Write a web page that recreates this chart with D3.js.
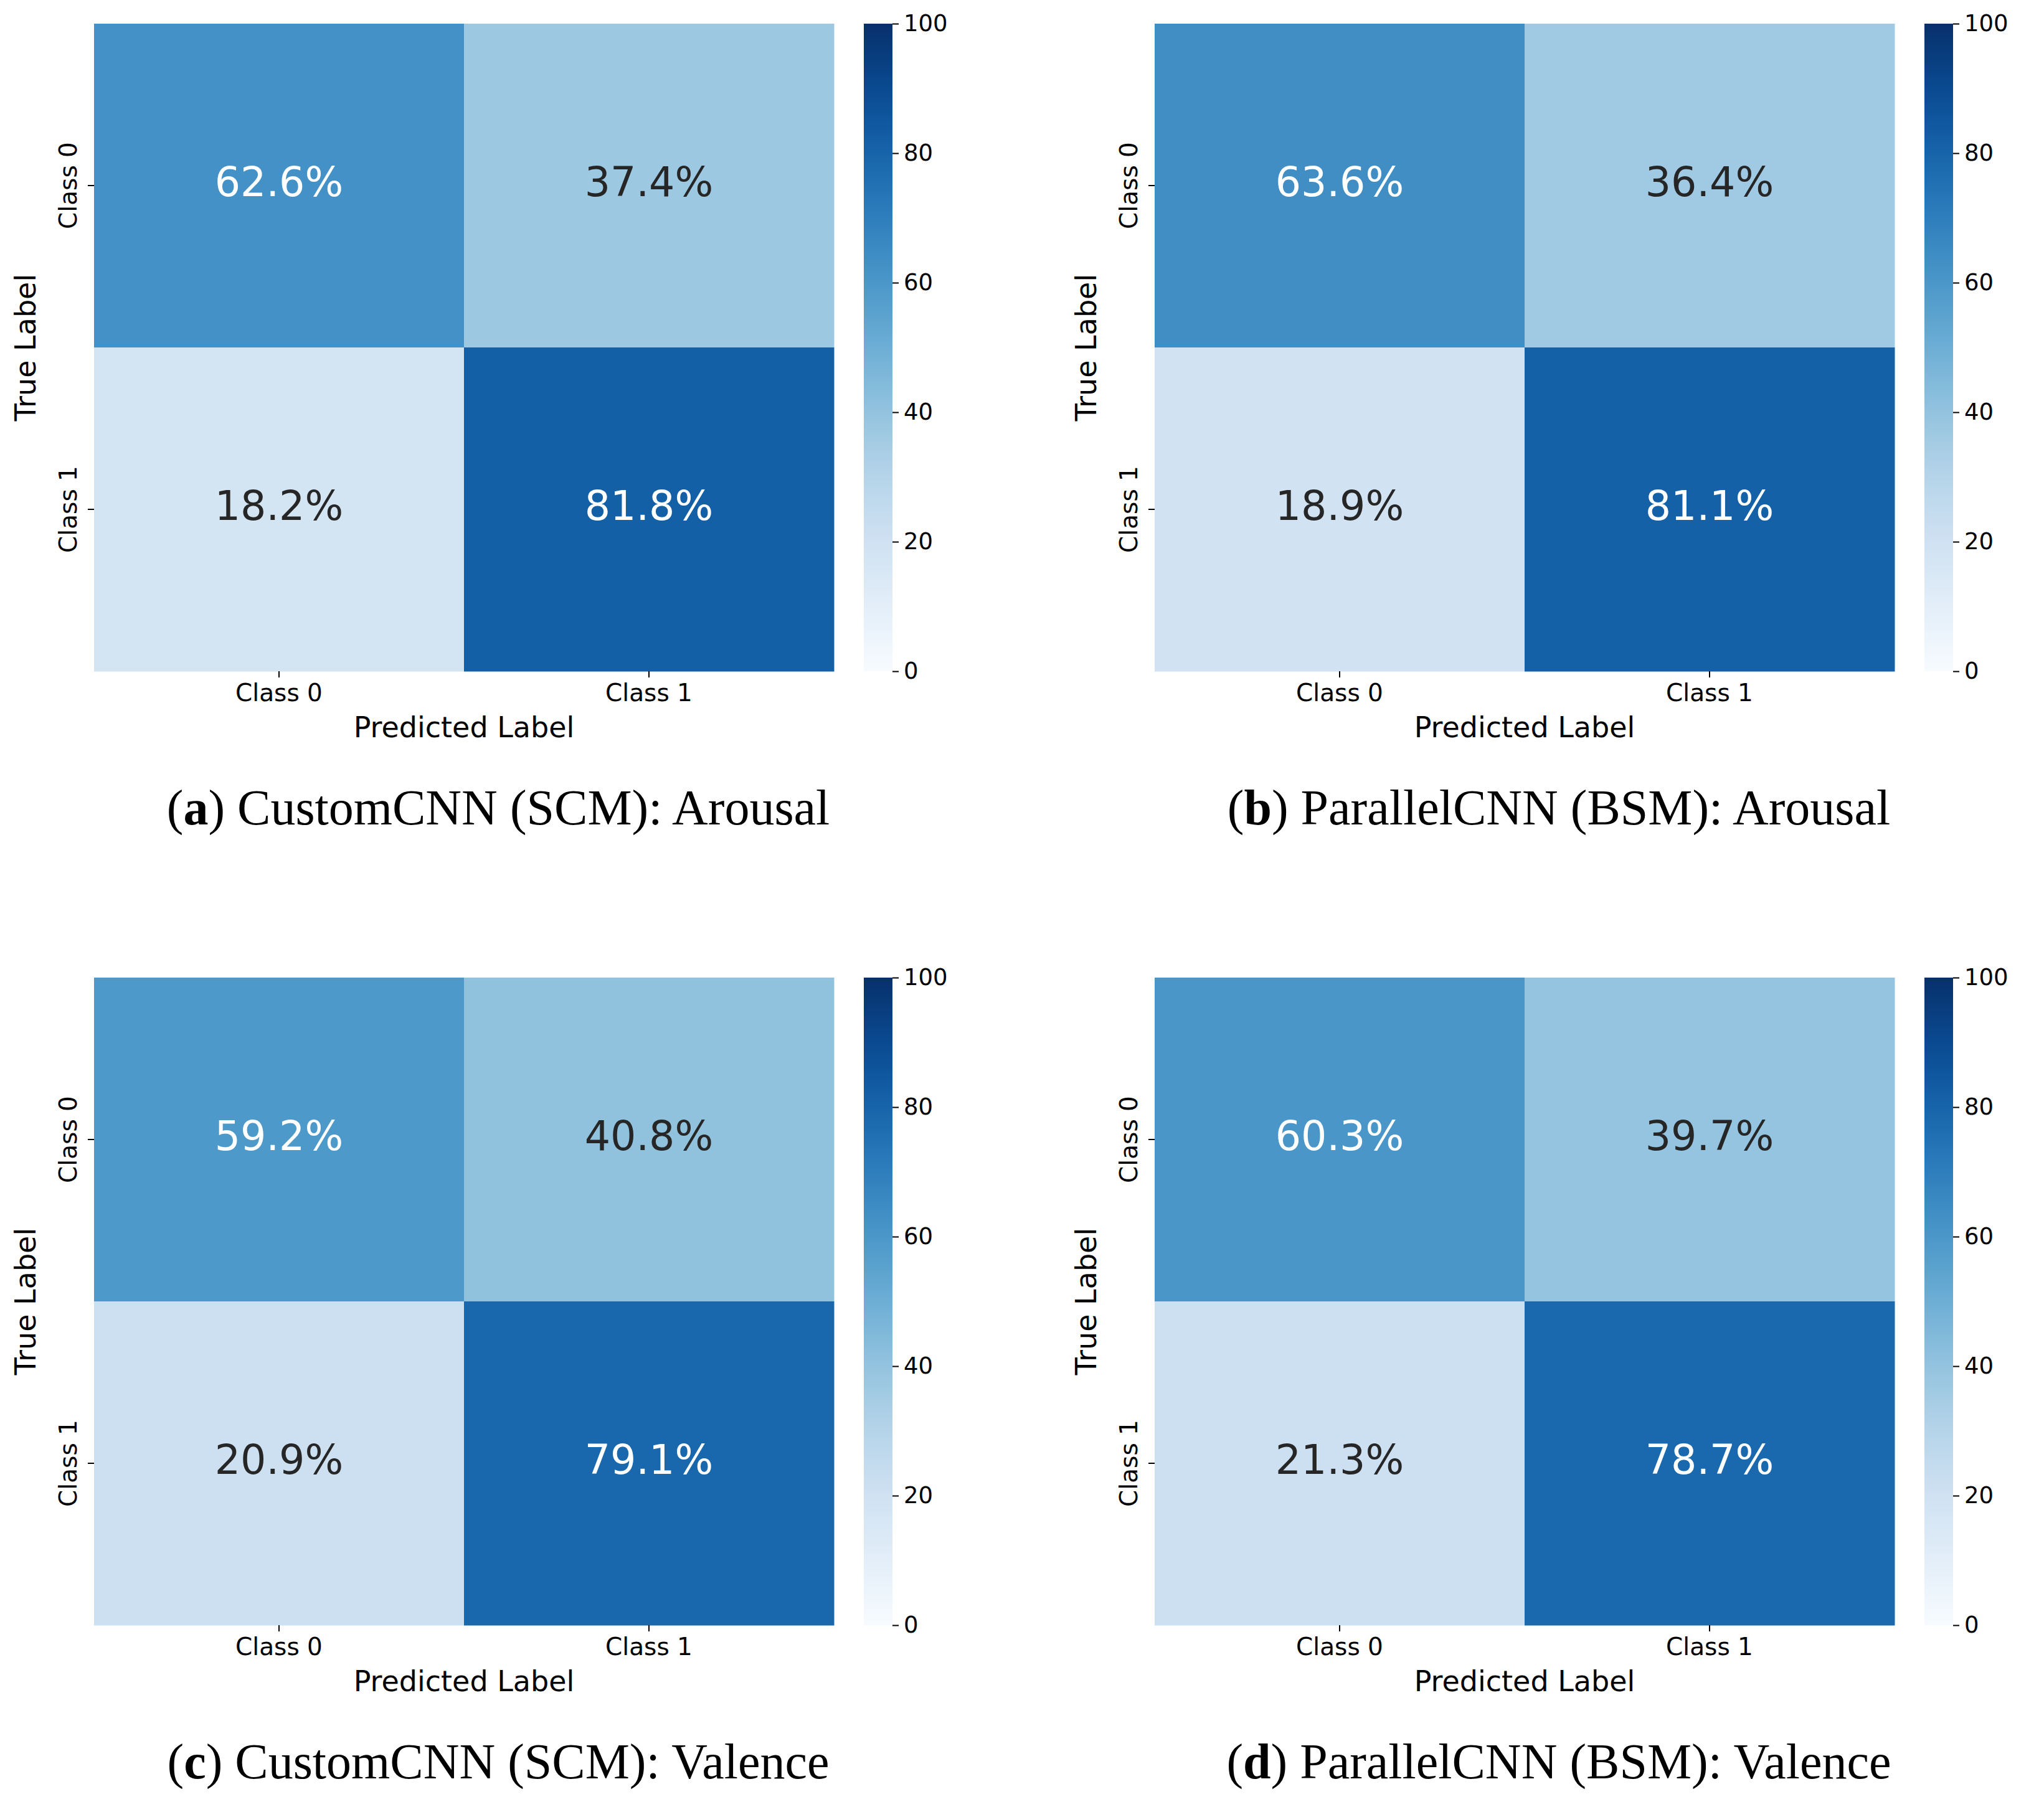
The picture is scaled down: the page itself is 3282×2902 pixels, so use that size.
<!DOCTYPE html>
<html><head><meta charset="utf-8">
<script src="https://cdn.jsdelivr.net/npm/d3@7"></script>
<style>body{margin:0;background:#fff}</style></head>
<body><svg id="c" width="3282" height="2902"></svg>
<script>
const classes = ["Class 0","Class 1"];
const panelA = [[62.6,37.4],[18.2,81.8]];
const panelB = [[63.6,36.4],[18.9,81.1]];
const panelC = [[59.2,40.8],[20.9,79.1]];
const panelD = [[60.3,39.7],[21.3,78.7]];
const letters = ["a","b","c","d"];
const captions = [") CustomCNN (SCM): Arousal",") ParallelCNN (BSM): Arousal",") CustomCNN (SCM): Valence",") ParallelCNN (BSM): Valence"];
const cbTicks = [0,20,40,60,80,100];

const svg = d3.select("#c");
const color = d3.scaleSequential(d3.interpolateBlues).domain([0,100]);
const panels = [panelA,panelB,panelC,panelD];
const lefts = [151,1854], tops = [38,1570];
const W = 1188, H = 1040;
const font = "DejaVu Sans";

panels.forEach((m,i)=>{
  const x0 = lefts[i%2], y0 = tops[Math.floor(i/2)];
  const g = svg.append("g").attr("transform",`translate(${x0},${y0})`);
  const x = d3.scaleBand().domain(classes).range([0,W]);
  const y = d3.scaleBand().domain(classes).range([0,H]);
  m.forEach((row,r)=>row.forEach((v,c)=>{
    g.append("rect").attr("x",x(classes[c])).attr("y",y(classes[r]))
      .attr("width",x.bandwidth()+0.5).attr("height",y.bandwidth()+0.5).attr("fill",color(v));
    g.append("text").attr("x",x(classes[c])+x.bandwidth()/2).attr("y",y(classes[r])+y.bandwidth()/2-6)
      .attr("text-anchor","middle").attr("dominant-baseline","central")
      .attr("font-family",font).attr("font-size",65)
      .attr("fill",v>50?"#fff":"#262626").text(v.toFixed(1)+"%");
  }));
  const ax = g.append("g").attr("transform",`translate(0,${H})`)
    .call(d3.axisBottom(x).tickSize(10).tickPadding(10));
  ax.select(".domain").remove();
  ax.selectAll("text").attr("font-family",font).attr("font-size",39).attr("fill","#000");
  ax.selectAll("line").attr("stroke","#000").attr("stroke-width",2);
  const ay = g.append("g").call(d3.axisLeft(y).tickSize(10).tickPadding(8));
  ay.select(".domain").remove();
  ay.selectAll("line").attr("stroke","#000").attr("stroke-width",2);
  ay.selectAll("text").attr("font-family",font).attr("font-size",39).attr("fill","#000")
    .attr("transform","rotate(-90)").attr("x",0).attr("y",-28).attr("dy","0")
    .attr("text-anchor","middle");
  g.append("text").attr("x",W/2).attr("y",H+106).attr("text-anchor","middle")
    .attr("font-family",font).attr("font-size",46).text("Predicted Label");
  g.append("text").attr("transform",`translate(-94,${H/2}) rotate(-90)`).attr("text-anchor","middle")
    .attr("font-family",font).attr("font-size",46).text("True Label");
  const cbx = W+48, cbw = 46;
  const defs = svg.append("defs");
  const gid = "grad"+i;
  const gr = defs.append("linearGradient").attr("id",gid).attr("x1",0).attr("y1",1).attr("x2",0).attr("y2",0);
  d3.range(0,1.01,0.05).forEach(t=>gr.append("stop").attr("offset",t).attr("stop-color",color(t*100)));
  g.append("rect").attr("x",cbx).attr("y",0).attr("width",cbw).attr("height",H).attr("fill",`url(#${gid})`);
  const cy = d3.scaleLinear().domain([0,100]).range([H,0]);
  const ac = g.append("g").attr("transform",`translate(${cbx+cbw},0)`)
    .call(d3.axisRight(cy).tickValues(cbTicks).tickSize(10).tickPadding(8));
  ac.select(".domain").remove();
  ac.selectAll("line").attr("stroke","#000").attr("stroke-width",2);
  ac.selectAll("text").attr("font-family",font).attr("font-size",37).attr("fill","#000");
  const cap = g.append("text").attr("x",W/2+55).attr("y",H+246).attr("text-anchor","middle")
    .attr("font-family","Liberation Serif, DejaVu Serif, serif").attr("font-size",80).attr("fill","#000");
  cap.append("tspan").text("(");
  cap.append("tspan").attr("font-weight","bold").text(letters[i]);
  cap.append("tspan").text(captions[i]);
});
</script></body></html>
